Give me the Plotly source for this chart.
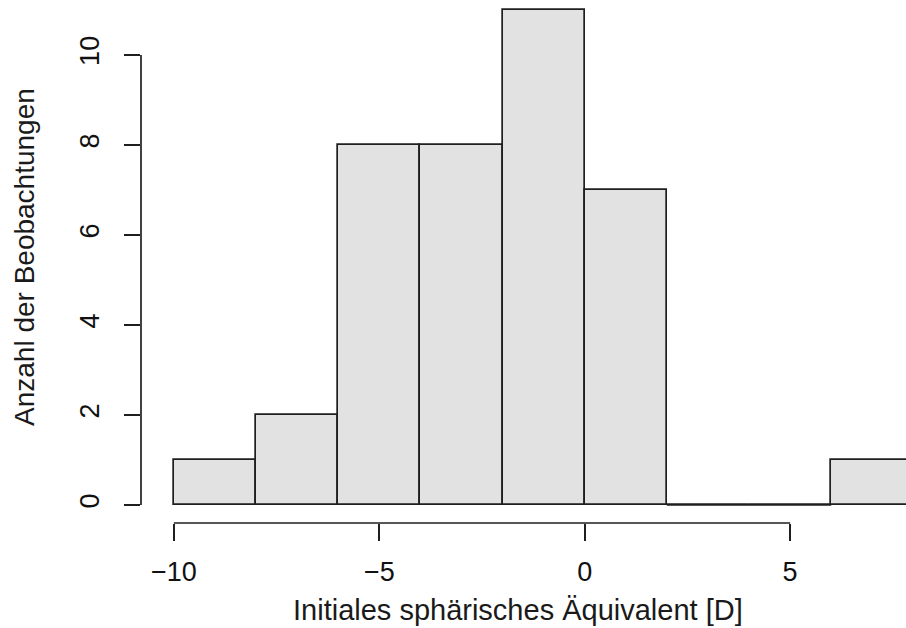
import plotly.graph_objects as go

# Data
bin_edges = [-10, -8, -6, -4, -2, 0, 2, 4, 6, 8]
counts = [1, 2, 8, 8, 11, 7, 0, 0, 1]
x_ticks = [-10, -5, 0, 5]
y_ticks = [0, 2, 4, 6, 8, 10]
x_title = "Initiales sphärisches Äquivalent [D]"
y_title = "Anzahl der Beobachtungen"

centers = [(a + b) / 2 for a, b in zip(bin_edges[:-1], bin_edges[1:])]
widths = [b - a for a, b in zip(bin_edges[:-1], bin_edges[1:])]

FONT = "Liberation Sans, Arial, sans-serif"
LINE = "#1f1f1f"

W, H = 906, 628
ML, MR, MT, MB = 141, 0, 0, 105
PW, PH = W - ML - MR, H - MT - MB

fig = go.Figure()
fig.add_trace(go.Bar(
    x=centers, y=counts, width=widths,
    marker=dict(color="#e2e2e2", line=dict(color=LINE, width=1.7)),
    showlegend=False, hoverinfo="skip",
))

# zero-count bins drawn as flat lines (like R)
zx, zy = [], []
for a, b, c in zip(bin_edges[:-1], bin_edges[1:], counts):
    if c == 0:
        zx += [a, b, None]
        zy += [0, 0, None]
fig.add_trace(go.Scatter(x=zx, y=zy, mode="lines",
                         line=dict(color=LINE, width=1.7),
                         showlegend=False, hoverinfo="skip"))

# R-style detached axis lines
fig.add_shape(type="line", xref="x", yref="paper",
              x0=min(x_ticks), x1=max(x_ticks), y0=0, y1=0,
              line=dict(color=LINE, width=1.7))
fig.add_shape(type="line", xref="paper", yref="y",
              x0=0, x1=0, y0=min(y_ticks), y1=max(y_ticks),
              line=dict(color=LINE, width=1.7))

# axis titles (positioned like R's figure-region centred titles)
fig.add_annotation(text=x_title, xref="paper", yref="paper",
                   x=(518 - ML) / PW, y=-(610 - PH) / PH,
                   xanchor="center", yanchor="middle", showarrow=False,
                   font=dict(size=29, color="#1a1a1a"))
fig.add_annotation(text=y_title, xref="paper", yref="paper",
                   x=(24 - ML) / PW, y=(PH - 257) / PH, textangle=-90,
                   xanchor="center", yanchor="middle", showarrow=False,
                   font=dict(size=28, color="#1a1a1a"))

fig.update_layout(
    width=W, height=H,
    margin=dict(l=ML, r=MR, t=MT, b=MB, autoexpand=False),
    plot_bgcolor="white", paper_bgcolor="white",
    font=dict(family=FONT, size=28, color="#1a1a1a"),
    bargap=0,
    xaxis=dict(
        range=[-10.80, 7.82], showgrid=False, zeroline=False, showline=False,
        tickmode="array", tickvals=x_ticks,
        ticktext=[str(v).replace("-", "\u2212") for v in x_ticks],
        ticks="outside", ticklen=17, tickwidth=1.7, tickcolor=LINE,
        ticklabelstandoff=8,
        tickfont=dict(size=27, color="#111111"),
        automargin=False,
    ),
    yaxis=dict(
        range=[-0.4, 11.22], showgrid=False, zeroline=False, showline=False,
        tickmode="array", tickvals=y_ticks, ticktext=[str(v) for v in y_ticks],
        ticks="outside", ticklen=16, tickwidth=1.7, tickcolor=LINE,
        tickangle=-90, ticklabelstandoff=14,
        tickfont=dict(size=27, color="#111111"),
        automargin=False,
    ),
)

fig.write_html("out.html", config={"displayModeBar": False},
               post_script="document.body.style.margin='0';document.body.style.padding='0';")
